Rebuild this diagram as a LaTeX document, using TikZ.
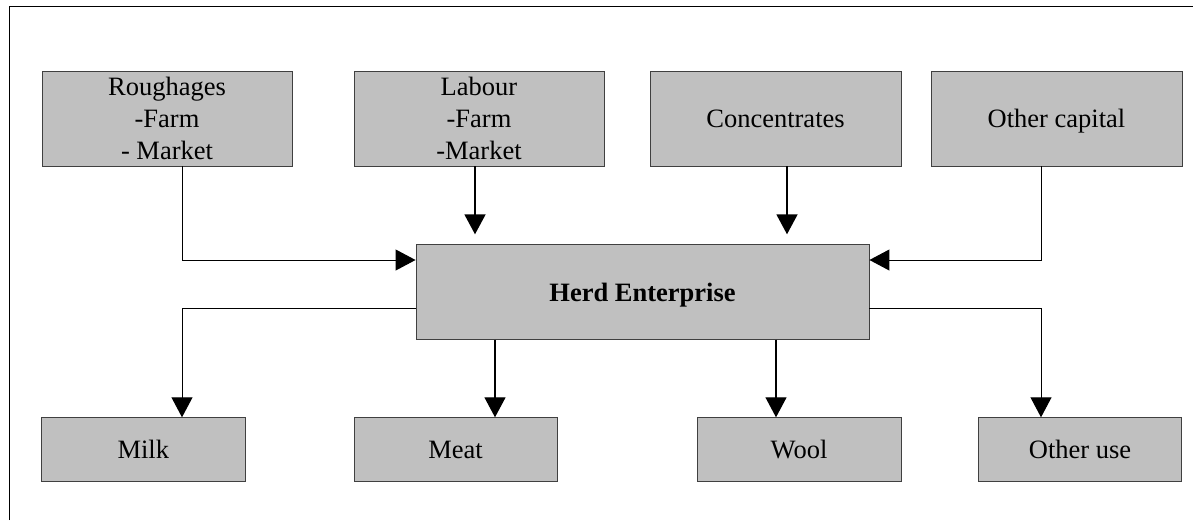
\documentclass[tikz,border=0pt]{standalone}
\usepackage{fontspec}
\setmainfont{Liberation Serif}
\usetikzlibrary{arrows.meta}
\definecolor{boxfill}{RGB}{192,192,192}
\definecolor{boxline}{RGB}{64,64,64}
\tikzset{
  box/.style={draw=boxline, fill=boxfill, line width=0.9pt, inner sep=0pt,
    align=center, font=\fontsize{26.5}{32.4}\selectfont},
  oneline/.style={text height=18pt, text depth=0pt},
  topbox/.style={box, minimum width=250pt, minimum height=95pt},
  botbox/.style={box, oneline, minimum width=204pt, minimum height=63.5pt},
  conn/.style={draw=black, line width=1pt, -{Triangle[length=20pt,width=21pt]}},
  thickconn/.style={conn, line width=1.8pt},
}
\begin{document}
\begin{tikzpicture}[x=1pt,y=-1pt]
\useasboundingbox (0,0) rectangle (1193,520);
% frame
\draw[line width=1pt] (9,520) -- (9,6) -- (1193,6);
% top boxes
\node[topbox] (rough) at (167,118.5) {Roughages\\-Farm\\- Market};
\node[topbox] (labour) at (479,118.5) {Labour\\-Farm\\-Market};
\node[topbox, oneline, minimum width=251pt] (conc) at (775.5,118.5) {Concentrates};
\node[topbox, oneline, minimum width=251pt] (ocap) at (1056.5,118.5) {Other capital};
% central box
\node[box, oneline, minimum width=453pt, minimum height=94.5pt, font=\fontsize{26.5}{32.4}\selectfont\bfseries] (herd) at (642.5,292) {Herd Enterprise};
% bottom boxes
\node[botbox] (milk) at (143.3,449.5) {Milk};
\node[botbox, minimum width=203pt] (meat) at (455.5,449.5) {Meat};
\node[botbox] (wool) at (799,449.5) {Wool};
\node[botbox, minimum width=203pt] (ouse) at (1080,449.5) {Other use};
% helper coordinates
\coordinate (r1) at (182,260);
\coordinate (lx) at (475,0);
\coordinate (cx) at (787,0);
\coordinate (o1) at (1041,260);
\coordinate (m1) at (182,308);
\coordinate (mx) at (495,0);
\coordinate (wx) at (776,0);
\coordinate (u1) at (1041,308);
% inputs
\draw[conn] (r1 |- rough.south) -- (r1) -- (r1 -| herd.west);
\draw[thickconn, shorten >=10pt] (lx |- labour.south) -- (lx |- herd.north);
\draw[thickconn, shorten >=10pt] (cx |- conc.south) -- (cx |- herd.north);
\draw[conn] (o1 |- ocap.south) -- (o1) -- (o1 -| herd.east);
% outputs
\draw[conn] (m1 -| herd.west) -- (m1) -- (m1 |- milk.north);
\draw[conn, line width=1.3pt] (mx |- herd.south) -- (mx |- meat.north);
\draw[conn, line width=1.3pt] (wx |- herd.south) -- (wx |- wool.north);
\draw[conn] (u1 -| herd.east) -- (u1) -- (u1 |- ouse.north);
\end{tikzpicture}
\end{document}
